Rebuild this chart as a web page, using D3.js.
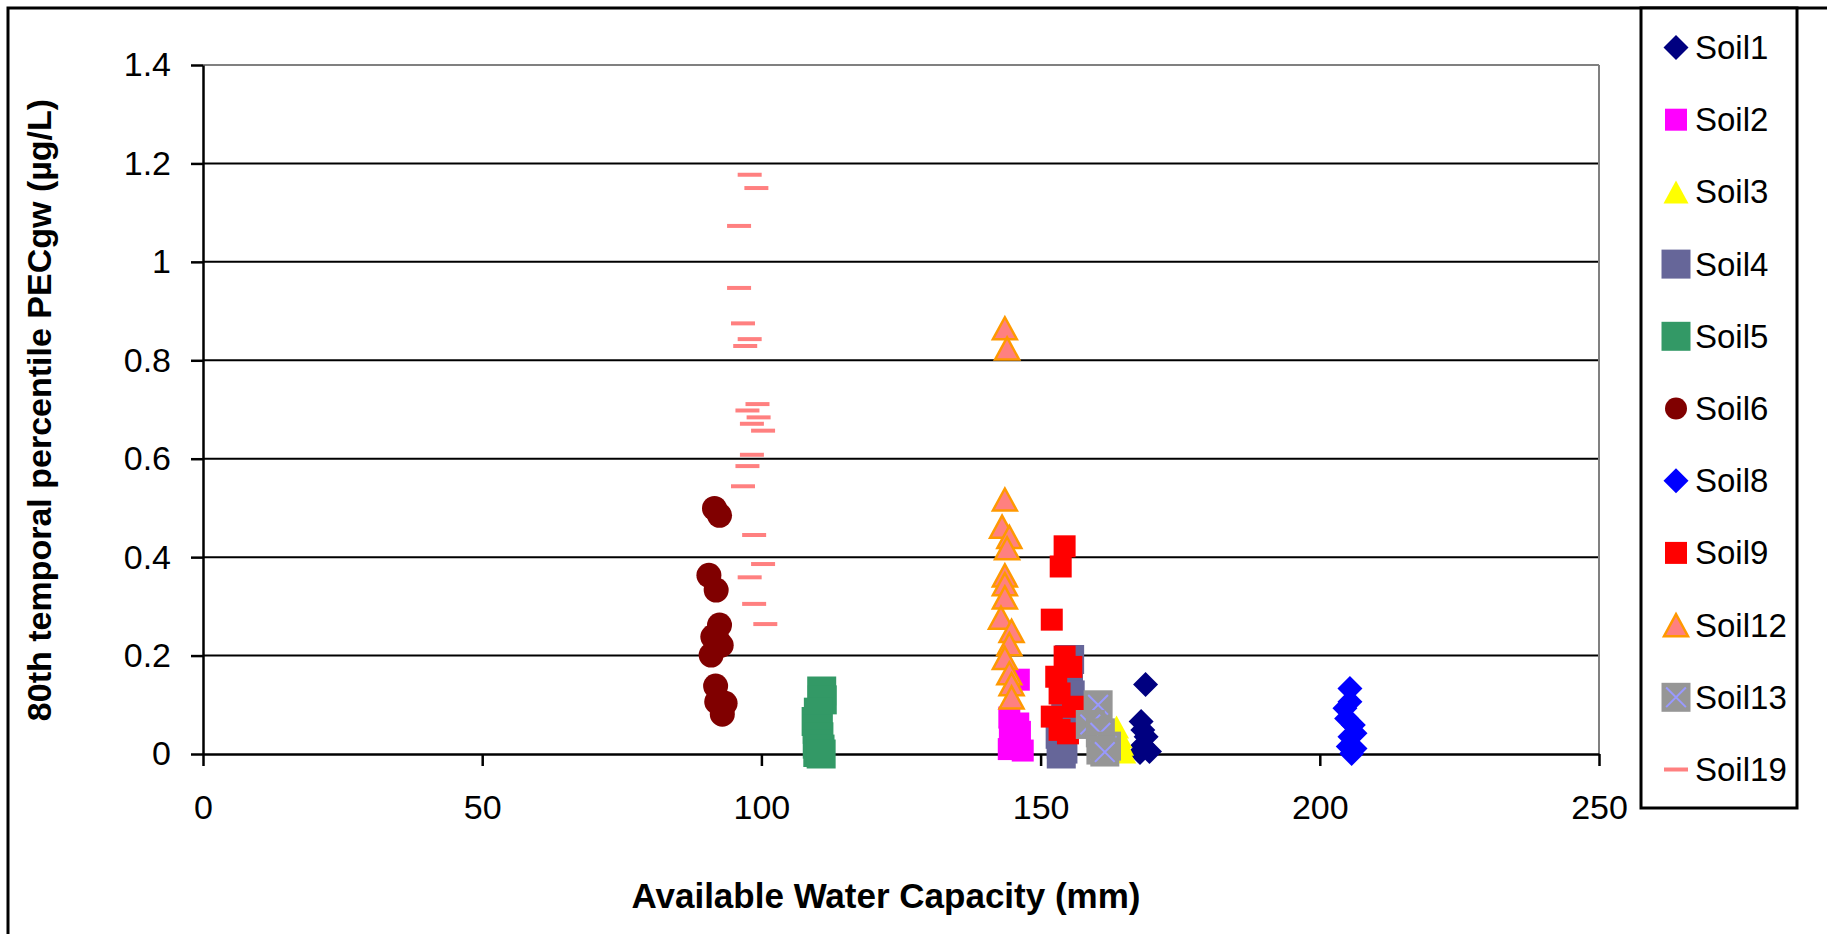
<!DOCTYPE html>
<html>
<head>
<meta charset="utf-8">
<script src="https://cdn.jsdelivr.net/npm/d3@7"></script>
<style>
  body { margin: 0; background: #fff; }
  svg { display: block; }
  text { font-family: "Liberation Sans", Arial, sans-serif; fill: #000; }
</style>
</head>
<body>
<svg id="chart" width="1827" height="934"></svg>
<script>
// Available water capacity (mm) vs. 80th temporal percentile PECgw (µg/L), per soil
const soil1 = [[168.8,0.141],[168.0,0.066],[168.3,0.049],[168.9,0.035],[168.3,0.018],[169.5,0.005],[167.8,0.003]];
const soil2 = [[146.1,0.151],[144.4,0.074],[146.0,0.062],[146.3,0.045],[144.5,0.035],[145.0,0.020],[144.3,0.010],[146.8,0.007]];
const soil3 = [[163.6,0.055],[164.2,0.035],[164.5,0.020],[164.9,0.004]];
const soil4 = [[155.2,0.192],[155.0,0.150],[155.3,0.120],[154.5,0.090],[153.8,0.060],[153.5,0.040],[153.7,0.020],[154.0,0.010],[153.7,0.000]];
const soil5 = [[110.8,0.128],[110.9,0.110],[110.2,0.085],[109.8,0.066],[110.0,0.050],[110.3,0.035],[110.0,0.020],[110.5,0.010],[110.1,0.003],[110.7,0.000]];
const soil6 = [[91.6,0.499],[92.5,0.485],[90.6,0.363],[91.9,0.333],[92.5,0.262],[91.3,0.238],[92.2,0.230],[92.8,0.221],[91.0,0.201],[91.8,0.138],[92.0,0.106],[93.5,0.103],[93.0,0.081]];
const soil8 = [[205.4,0.133],[205.4,0.106],[204.5,0.093],[204.8,0.072],[206.0,0.059],[206.3,0.042],[205.4,0.035],[205.1,0.015],[206.3,0.011],[205.7,0.001]];
const soil9 = [[154.3,0.422],[153.6,0.381],[152.0,0.273],[154.3,0.198],[155.5,0.177],[152.8,0.157],[153.4,0.123],[155.8,0.096],[152.0,0.076],[153.4,0.049],[154.9,0.042]];
const soil12 = [[143.6,0.865],[144.0,0.824],[143.6,0.517],[143.1,0.462],[144.4,0.441],[144.0,0.418],[143.6,0.363],[143.6,0.345],[143.6,0.318],[142.9,0.277],[144.8,0.250],[144.4,0.223],[143.6,0.195],[144.4,0.164],[144.8,0.142],[144.8,0.115]];
const soil13 = [[160.3,0.100],[158.9,0.060],[160.7,0.043],[161.8,0.016],[160.8,0.008],[161.5,0.004]];
const soil19 = [[97.9,1.177],[99.1,1.150],[96.0,1.073],[96.0,0.947],[96.7,0.875],[97.9,0.843],[97.1,0.829],[99.3,0.711],[97.5,0.698],[99.5,0.684],[98.3,0.671],[100.3,0.657],[98.3,0.608],[97.5,0.585],[96.7,0.544],[98.7,0.445],[100.3,0.386],[97.9,0.359],[98.7,0.305],[100.7,0.264]];

const seriesNames = ["Soil1","Soil2","Soil3","Soil4","Soil5","Soil6","Soil8","Soil9","Soil12","Soil13","Soil19"];
const seriesData  = [soil1, soil2, soil3, soil4, soil5, soil6, soil8, soil9, soil12, soil13, soil19];

const xTicks = [0, 50, 100, 150, 200, 250];
const xTickLabels = ["0", "50", "100", "150", "200", "250"];
const yTicks = [0, 0.2, 0.4, 0.6, 0.8, 1, 1.2, 1.4];
const yTickLabels = ["0", "0.2", "0.4", "0.6", "0.8", "1", "1.2", "1.4"];

const xTitle = "Available Water Capacity (mm)";
const yTitle = "80th temporal percentile PECgw (µg/L)";

// marker styling per series (same order as seriesNames)
const markerStyles = [
  { shape: "diamond",  size: 25, fill: "#000080" },
  { shape: "square",   size: 22, fill: "#FF00FF" },
  { shape: "triangle", size: 25, fill: "#FFFF00" },
  { shape: "square",   size: 29, fill: "#666699" },
  { shape: "square",   size: 29, fill: "#339966" },
  { shape: "circle",   size: 25, fill: "#800000", legendSize: 22 },
  { shape: "diamond",  size: 25, fill: "#0000FF" },
  { shape: "square",   size: 22, fill: "#FF0000" },
  { shape: "triangle", size: 24, fill: "#FF8080", stroke: "#FF9900", strokeWidth: 2.5 },
  { shape: "squareX",  size: 29, fill: "#969696", cross: "#9999FF" },
  { shape: "dash",     size: 24, fill: "#FF8080" }
];

const svg = d3.select("#chart");
const W = 1827, H = 934;
const plot = { left: 203, right: 1599, top: 65, bottom: 754 };

svg.append("rect").attr("width", W).attr("height", H).attr("fill", "#fff");

// chart frame
svg.append("rect")
  .attr("x", 8).attr("y", 8).attr("width", W + 10).attr("height", H + 10)
  .attr("fill", "none").attr("stroke", "#000").attr("stroke-width", 3);

const x = d3.scaleLinear().domain([0, 250]).range([plot.left, plot.right]);
const y = d3.scaleLinear().domain([0, 1.4]).range([plot.bottom, plot.top]);

// horizontal gridlines
svg.append("g").selectAll("line")
  .data(yTicks.filter(v => v > 0))
  .join("line")
  .attr("x1", plot.left).attr("x2", plot.right)
  .attr("y1", d => y(d)).attr("y2", d => y(d))
  .attr("stroke", d => d === 1.4 ? "#808080" : "#000")
  .attr("stroke-width", 2);

// right edge of the plot area
svg.append("line")
  .attr("x1", plot.right).attr("x2", plot.right)
  .attr("y1", plot.top).attr("y2", plot.bottom)
  .attr("stroke", "#808080").attr("stroke-width", 2);

// axes
const yAxis = d3.axisLeft(y).tickValues(yTicks)
  .tickFormat((d, i) => yTickLabels[i]).tickSize(12).tickSizeOuter(0).tickPadding(20);
const xAxis = d3.axisBottom(x).tickValues(xTicks)
  .tickFormat((d, i) => xTickLabels[i]).tickSize(12).tickSizeOuter(0).tickPadding(29);

const gy = svg.append("g").attr("transform", `translate(${plot.left},0)`).call(yAxis);
const gx = svg.append("g").attr("transform", `translate(0,${plot.bottom})`).call(xAxis);
[gx, gy].forEach(g => {
  g.select(".domain").attr("stroke", "#000").attr("stroke-width", 2.5);
  g.selectAll(".tick line").attr("stroke", "#000").attr("stroke-width", 2.5);
  g.selectAll(".tick text")
    .attr("font-family", '"Liberation Sans", Arial, sans-serif')
    .attr("font-size", 34).attr("fill", "#000");
});

// axis titles
svg.append("text")
  .attr("x", 886).attr("y", 895)
  .attr("text-anchor", "middle").attr("dominant-baseline", "central")
  .attr("font-size", 35).attr("font-weight", "bold")
  .text(xTitle);

svg.append("text")
  .attr("transform", `translate(39,410) rotate(-90)`)
  .attr("text-anchor", "middle").attr("dominant-baseline", "central")
  .attr("font-size", 34).attr("font-weight", "bold")
  .text(yTitle);

// marker drawing
function markerPath(shape, s) {
  const h = s / 2;
  switch (shape) {
    case "diamond":  return `M0,${-h}L${h},0L0,${h}L${-h},0Z`;
    case "square":
    case "squareX":  return `M${-h},${-h}H${h}V${h}H${-h}Z`;
    case "triangle": { const th = s * 0.46; return `M0,${-th}L${h},${th}L${-h},${th}Z`; }
    case "circle":   return `M${h},0A${h},${h} 0 1,1 ${-h},0A${h},${h} 0 1,1 ${h},0Z`;
    case "dash":     return `M${-h},-2H${h}V2H${-h}Z`;
  }
}

function drawMarker(g, st, size) {
  g.append("path")
    .attr("d", markerPath(st.shape, size))
    .attr("fill", st.fill)
    .attr("stroke", st.stroke || "none")
    .attr("stroke-width", st.strokeWidth || 0)
    .attr("stroke-linejoin", "miter");
  if (st.shape === "squareX") {
    const c = size * 0.34;
    g.append("path")
      .attr("d", `M${-c},${-c}L${c},${c}M${c},${-c}L${-c},${c}`)
      .attr("stroke", st.cross).attr("stroke-width", 2).attr("fill", "none");
  }
}

const marks = svg.append("g");
seriesData.forEach((pts, si) => {
  const st = markerStyles[si];
  marks.append("g").attr("class", "series " + seriesNames[si])
    .selectAll("g")
    .data(pts)
    .join("g")
    .attr("transform", d => `translate(${x(d[0])},${y(d[1])})`)
    .each(function () { drawMarker(d3.select(this), st, st.size); });
});

// legend
const legend = svg.append("g");
legend.append("rect")
  .attr("x", 1641).attr("y", 8).attr("width", 156).attr("height", 800)
  .attr("fill", "#fff").attr("stroke", "#000").attr("stroke-width", 3);

const legendY = d3.scalePoint().domain(seriesNames).range([47.5, 769.5]);
seriesNames.forEach((name, i) => {
  const st = markerStyles[i];
  const g = legend.append("g").attr("transform", `translate(1676,${legendY(name)})`);
  drawMarker(g, st, st.legendSize || st.size);
  legend.append("text")
    .attr("x", 1695).attr("y", legendY(name))
    .attr("dominant-baseline", "central")
    .attr("font-size", 33)
    .text(name);
});
</script>
</body>
</html>
